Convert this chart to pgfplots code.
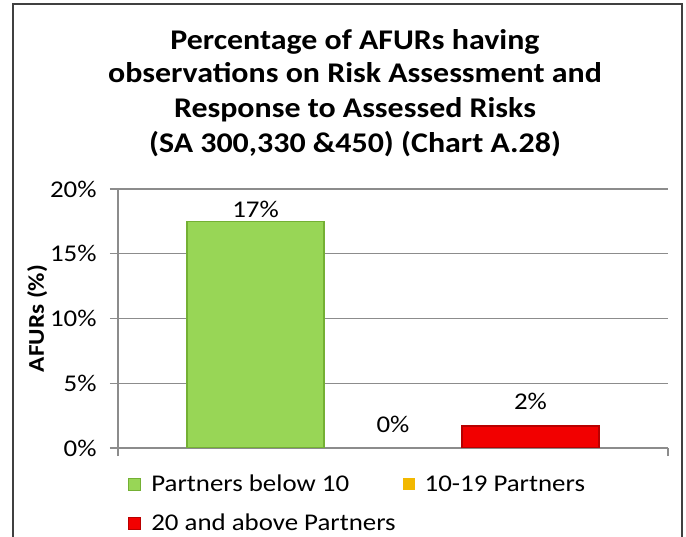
\documentclass[border=0pt]{standalone}
\usepackage{pgfplots}
\pgfplotsset{compat=1.18}
\usepackage{fontspec}
\setmainfont[FakeStretch=1.12]{Carlito}
\definecolor{gridgray}{HTML}{8C8C8C}
\definecolor{barG}{HTML}{98D656}
\definecolor{barGd}{HTML}{74B034}
\definecolor{barY}{HTML}{F2B800}
\definecolor{barR}{HTML}{F20000}
\definecolor{barRd}{HTML}{B80000}
\definecolor{framec}{HTML}{404040}
\begin{document}
\begin{tikzpicture}
\useasboundingbox (0,0) rectangle (686bp,537bp);
\clip (0,0) rectangle (686bp,537bp);
\fill[white] (0,0) rectangle (686bp,537bp);
\draw[framec, line width=1.5bp] (13bp,-10bp) -- (13bp,533bp) -- (682bp,533bp) -- (682bp,-10bp);
\begin{scope}[every node/.style={anchor=base, inner sep=0pt, font=\fontsize{28.5bp}{34bp}\selectfont\bfseries}]
\node at (355bp,487bp) {Percentage of AFURs having};
\node at (355bp,454bp) {observations on Risk Assessment and};
\node at (355bp,419bp) {Response to Assessed Risks};
\node at (355bp,384bp) {(SA 300,330 \&450) (Chart A.28)};
\end{scope}
\begin{axis}[
  at={(118bp,89bp)}, anchor=south west,
  scale only axis, width=550bp, height=259bp,
  xmin=-1, xmax=3, ymin=0, ymax=20,
  ytick={0,5,10,15,20},
  yticklabel={\pgfmathprintnumber{\tick}\%},
  xtick={-1,3}, xticklabels={},
  /pgf/number format/assume math mode=true,
  axis lines*=left,
  axis line style={gridgray, line width=1.2bp},
  ymajorgrids, grid style={gridgray, line width=1.2bp},
  major tick length=8bp, tick align=outside, tick style={gridgray, line width=1.2bp},
  ticklabel style={font=\fontsize{24bp}{29bp}\selectfont},
  yticklabel style={xshift=-10bp},
  ylabel={AFURs (\%)},
  ylabel style={font=\fontsize{22.5bp}{27bp}\selectfont\bfseries, at={(axis description cs:-0.147,0.5)}, anchor=center},
  legend columns=2,
  legend cell align=left,
  legend style={draw=none, fill=none, inner sep=0pt, nodes={inner sep=0pt}, row sep=21bp,
    at={(axis description cs:0.018,-0.104)}, anchor=north west, font=\fontsize{24bp}{29bp}\selectfont,
    /tikz/every odd column/.append style={column sep=10bp},
    /tikz/every even column/.append style={column sep=7bp}},
  legend image code/.code={\fill[#1] (0bp,-6bp) rectangle (12bp,6bp);},
  nodes near coords style={font=\fontsize{24bp}{29bp}\selectfont, text=black},
]
\addplot[ybar, bar width=137bp, bar shift=0pt, fill=barG, draw=barGd, line width=1.2bp, point meta=explicit symbolic, nodes near coords] coordinates {(0,17.5) [17\%]};
\addlegendentry{Partners below 10}
\addplot[ybar, bar width=137bp, bar shift=0pt, fill=barY, draw=none, point meta=explicit symbolic, nodes near coords, nodes near coords style={yshift=12bp}] coordinates {(1,0) [0\%]};
\addlegendentry{10-19 Partners}
\addplot[ybar, bar width=137bp, bar shift=0pt, fill=barR, draw=barRd, line width=1.2bp, point meta=explicit symbolic, nodes near coords, nodes near coords style={yshift=12bp}] coordinates {(2,1.7) [2\%]};
\addlegendentry{20 and above Partners}
\end{axis}
\end{tikzpicture}
\end{document}
